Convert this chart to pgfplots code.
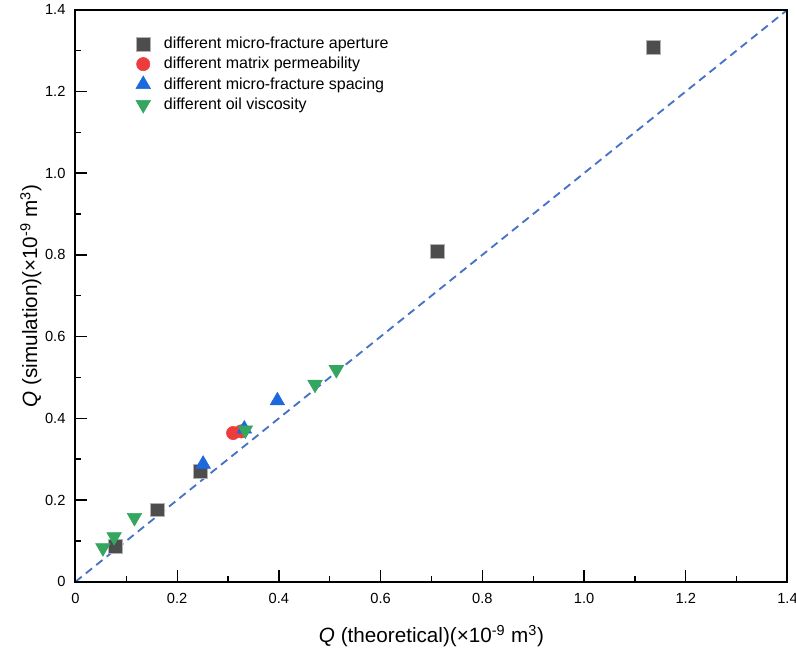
\documentclass[border=0pt]{standalone}
\usepackage{pgfplots}
\pgfplotsset{compat=1.18}
\usepackage{fontspec}
\setmainfont{Liberation Sans}
\definecolor{cSq}{RGB}{77,77,77}
\definecolor{cCi}{RGB}{238,60,60}
\definecolor{cTu}{RGB}{28,104,222}
\definecolor{cTd}{RGB}{52,166,96}
\definecolor{cLn}{RGB}{70,115,200}
\begin{document}
\begin{tikzpicture}
\useasboundingbox (-56.6pt,-54.2pt) rectangle (540.4pt,436.3pt);
\begin{axis}[
  name=ax,
  at={(0pt,0pt)}, anchor=south west,
  scale only axis,
  width=534pt, height=429pt,
  xmin=0, xmax=1.4, ymin=0, ymax=1.4,
  xtick={0,0.2,...,1.4}, ytick={0,0.2,...,1.4},
  xticklabels={0,0.2,0.4,0.6,0.8,1.0,1.2,1.4},
  yticklabels={0,0.2,0.4,0.6,0.8,1.0,1.2,1.4},
  minor tick num=1,
  tick align=inside,
  xtick pos=bottom, ytick pos=left,
  major tick length=8.5pt, minor tick length=4.2pt,
  axis line style={line width=1.3pt, black},
  tick style={line width=1pt, black},
  /pgf/number format/assume math mode=true,
  tick label style={font=\fontsize{11}{13}\selectfont},
  xticklabel style={yshift=-5pt},
  yticklabel style={xshift=-4pt},
  xlabel={\textit{Q} (theoretical)(×10\textsuperscript{-9} m\textsuperscript{3})},
  ylabel={\textit{Q} (simulation)(×10\textsuperscript{-9} m\textsuperscript{3})},
  label style={font=\fontsize{15.5}{17}\selectfont},
  xlabel style={at={(axis description cs:0.5,-0.0944)}, anchor=center},
  ylabel style={at={(axis description cs:-0.0627,0.5)}, anchor=center},
  legend style={draw=none, fill=none, at={(0.079,0.962)}, anchor=north west, font=\fontsize{12}{14}\selectfont, row sep=1pt, /tikz/every odd column/.append style={column sep=8pt}},
  legend cell align=left,
  clip=false,
]
\addplot[only marks, mark=square*, mark size=5.2pt, color=cSq, mark options={draw=gray!60, fill=cSq, line width=0.4pt}] coordinates {
(0.078,0.086) (0.160,0.176) (0.246,0.271) (0.711,0.808) (1.136,1.309)
};
\addlegendentry{different micro-fracture aperture}
\addplot[only marks, mark=*, mark size=5pt, color=cCi, mark options={draw=cCi, fill=cCi}] coordinates {
(0.310,0.364) (0.326,0.368)
};
\addlegendentry{different matrix permeability}
\addplot[only marks, mark=triangle*, mark size=6.3pt, color=cTu, mark options={draw=cTu, fill=cTu}] coordinates {
(0.251,0.288) (0.332,0.374) (0.397,0.443)
};
\addlegendentry{different micro-fracture spacing}
\addplot[only marks, mark=triangle*, mark size=6.3pt, color=cTd, mark options={draw=cTd, fill=cTd, rotate=180}] coordinates {
(0.054,0.083) (0.076,0.110) (0.116,0.157) (0.334,0.371) (0.471,0.483) (0.513,0.519)
};
\addlegendentry{different oil viscosity}
\addplot[cLn, dashed, line width=1.4pt, dash pattern=on 6pt off 4pt, forget plot] coordinates {(0,0) (1.4,1.4)};
\end{axis}
\draw[line width=1.5pt, black, solid] (ax.south west) rectangle (ax.north east);
\end{tikzpicture}
\end{document}
